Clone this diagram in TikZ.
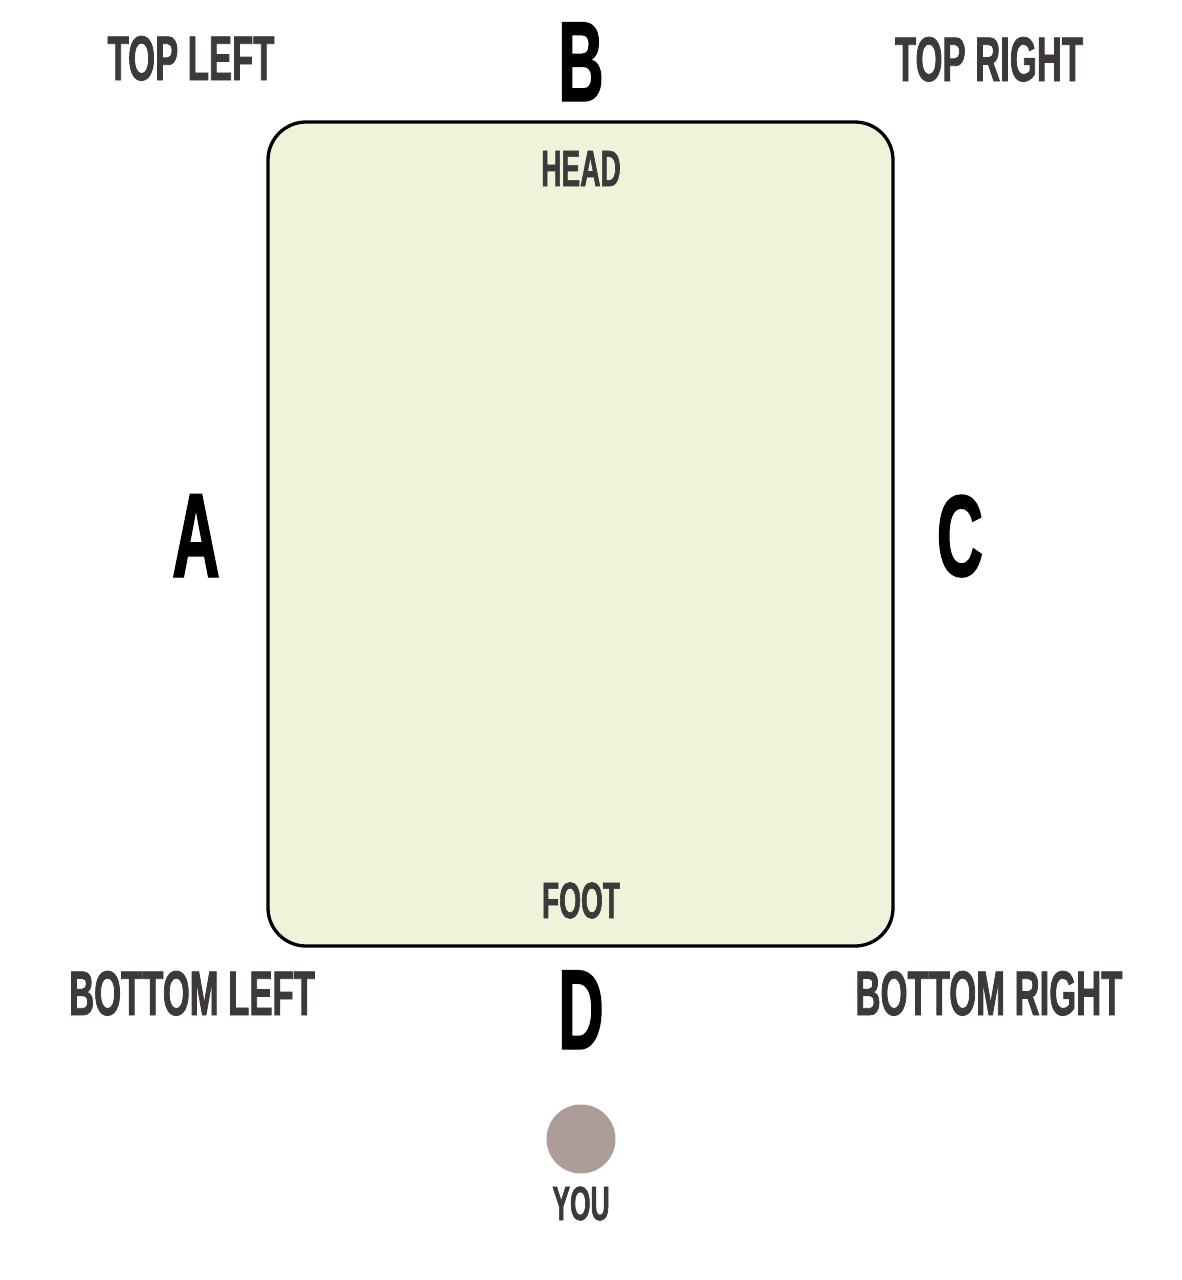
\documentclass[tikz,border=0pt]{standalone}
\usepackage{fontspec}
\newfontfamily\bebas{Liberation Sans}[FakeStretch=0.55, BoldFeatures={FakeBold=1.2}]
\definecolor{txtgray}{HTML}{3D3839}
\definecolor{boxfill}{HTML}{EEF4DA}
\definecolor{youcol}{HTML}{AD9C97}
\begin{document}
\begin{tikzpicture}[x=1pt,y=-1pt,
  lbl/.style={inner sep=0pt, anchor=base, text=txtgray, font=\bebas\bfseries\fontsize{63}{63}\selectfont},
  side/.style={inner sep=0pt, anchor=base, text=black, font=\bebas\bfseries\fontsize{114}{114}\selectfont},
  small/.style={inner sep=0pt, anchor=base, text=txtgray, font=\bebas\bfseries\fontsize{51}{51}\selectfont},
  board/.style={draw=black, line width=3.3pt, fill=boxfill, rounded corners=38pt, minimum width=625pt, minimum height=824pt, inner sep=0pt},
  you/.style={circle, fill=youcol, minimum size=69pt, inner sep=0pt}]
\useasboundingbox (0,0) rectangle (1182,1280);
\node[board] (box) at (580.5,534) {};
\node[lbl] (tl) at (191,80) {TOP LEFT};
\node[lbl] (tr) at (989,81) {TOP RIGHT};
\node[lbl] (bl) at (192,1015) {BOTTOM LEFT};
\node[lbl] (br) at (989,1015) {BOTTOM RIGHT};
\node[side] (b) at (581,101) {B};
\node[side, font=\bebas\bfseries\fontsize{120}{120}\selectfont] (a) at (196,577) {A};
\node[side, font=\bebas\bfseries\fontsize{116}{116}\selectfont] (c) at (960,576) {C};
\node[side] (d) at (581,1049) {D};
\node[small] (head) at (581,186) {HEAD};
\node[small] (foot) at (581,918) {FOOT};
\node[you] (me) at (581,1139) {};
\node[small, font=\bebas\bfseries\fontsize{48}{48}\selectfont] (youl) at (581,1220) {YOU};
\end{tikzpicture}
\end{document}
